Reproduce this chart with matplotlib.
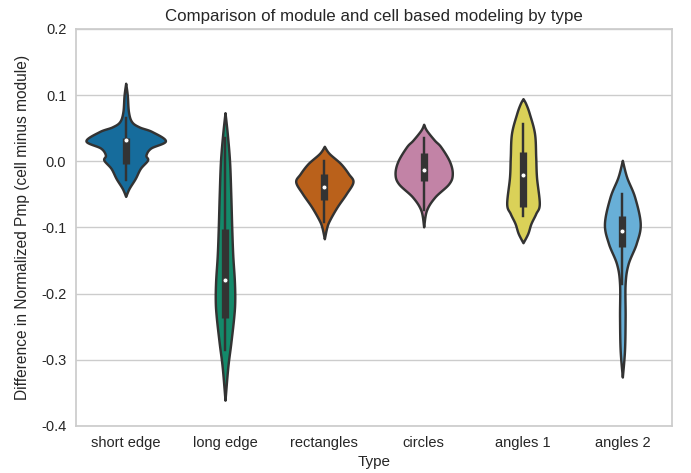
import colorsys
import numpy as np
import matplotlib
matplotlib.use("Agg")
from matplotlib import pyplot as plt
import matplotlib.colors as mcolors

plt.rcParams['font.family'] = ['Liberation Sans', 'DejaVu Sans']

types = ['short edge', 'long edge', 'rectangles', 'circles', 'angles 1', 'angles 2']
colors = ['#0072B2', '#009E73', '#D55E00', '#CC79A7', '#F0E442', '#56B4E9']

# kde outline of each type: support values and relative density
support_short = [0.118, 0.100, 0.075, 0.060, 0.052, 0.045, 0.031, 0.020, 0.0095, 0.002, -0.0106, -0.026, -0.041, -0.053]
density_short = [0.0, 0.04, 0.07, 0.15, 0.34, 0.66, 1.0, 0.63, 0.51, 0.55, 0.37, 0.24, 0.085, 0.0]

support_long = [0.0735, 0.040, -0.001, -0.050, -0.102, -0.142, -0.180, -0.210, -0.235, -0.275, -0.311, -0.361]
density_long = [0.0, 0.06, 0.115, 0.145, 0.17, 0.195, 0.235, 0.245, 0.22, 0.145, 0.07, 0.0]

support_rect = [0.0227, 0.012, -0.0035, -0.019, -0.031, -0.049, -0.069, -0.089, -0.100, -0.117]
density_rect = [0.0, 0.12, 0.41, 0.61, 0.72, 0.55, 0.32, 0.13, 0.06, 0.0]

support_circ = [0.056, 0.047, 0.032, 0.022, 0.000, -0.019, -0.034, -0.054, -0.074, -0.099]
density_circ = [0.0, 0.07, 0.27, 0.43, 0.65, 0.72, 0.63, 0.28, 0.07, 0.0]

support_ang1 = [0.0947, 0.087, 0.072, 0.042, 0.0065, -0.024, -0.064, -0.079, -0.094, -0.109, -0.123]
density_ang1 = [0.0, 0.07, 0.16, 0.29, 0.32, 0.34, 0.41, 0.32, 0.2, 0.12, 0.0]

support_ang2 = [0.0015, -0.024, -0.054, -0.094, -0.124, -0.155, -0.185, -0.235, -0.285, -0.326]
density_ang2 = [0.0, 0.11, 0.31, 0.45, 0.35, 0.145, 0.07, 0.07, 0.055, 0.0]

supports = [support_short, support_long, support_rect, support_circ, support_ang1, support_ang2]
densities = [density_short, density_long, density_rect, density_circ, density_ang1, density_ang2]

# inner box stats per type
q1 = [-0.0045, -0.237, -0.059, -0.029, -0.069, -0.129]
median = [0.032, -0.180, -0.039, -0.0136, -0.021, -0.106]
q3 = [0.036, -0.102, -0.019, 0.012, 0.014, -0.082]
whisker_lo = [-0.028, -0.285, -0.092, -0.074, -0.082, -0.185]
whisker_hi = [0.065, 0.035, 0.0005, 0.035, 0.057, -0.049]

yticks = [0.2, 0.1, 0.0, -0.1, -0.2, -0.3, -0.4]
yticklabels = ['0.2', '0.1', '0.0', '-0.1', '-0.2', '-0.3', '-0.4']


def desaturate(c, prop):
    h, l, s = colorsys.rgb_to_hls(*mcolors.to_rgb(c))
    return colorsys.hls_to_rgb(h, l, s * prop)


def smooth_outline(ys, ws, n=20):
    # catmull-rom through the outline points
    pts = np.column_stack([ys, ws])
    pts = np.vstack([pts[0], pts, pts[-1]])
    out = []
    for i in range(1, len(pts) - 2):
        p0, p1, p2, p3 = pts[i - 1], pts[i], pts[i + 1], pts[i + 2]
        t = np.linspace(0, 1, n, endpoint=False)[:, None]
        seg = 0.5 * ((2 * p1) + (-p0 + p2) * t + (2 * p0 - 5 * p1 + 4 * p2 - p3) * t ** 2
                     + (-p0 + 3 * p1 - 3 * p2 + p3) * t ** 3)
        out.append(seg)
    out.append(pts[-2][None, :])
    out = np.vstack(out)
    return out[:, 0], np.clip(out[:, 1], 0, None)


fig = plt.figure(figsize=(6.91, 4.73), dpi=100)
ax = fig.add_axes([0.110, 0.0994, 0.8625, 0.8393])

gray = '#333333'
lw = 1.75
half = 0.4

for i in range(len(types)):
    ys, ws = smooth_outline(supports[i], densities[i])
    ax.fill_betweenx(ys, i - ws * half, i + ws * half,
                     facecolor=desaturate(colors[i], 0.75), edgecolor=gray, lw=lw, zorder=2)
    ax.plot([i, i], [whisker_lo[i], whisker_hi[i]], color=gray, lw=lw, zorder=3)
    ax.plot([i, i], [q1[i], q3[i]], color=gray, lw=lw * 3, solid_capstyle='butt', zorder=3)
    ax.scatter(i, median[i], s=(lw * 2) ** 2, color='white', edgecolor=gray, lw=0.5, zorder=4)

ax.set_xlim(-0.5, len(types) - 0.5)
ax.set_ylim(-0.4, 0.2)
ax.set_xticks(range(len(types)))
ax.set_xticklabels(types)
ax.set_yticks(yticks)
ax.set_yticklabels(yticklabels)

ax.grid(axis='y', color='#cccccc', lw=1.0, zorder=0)
ax.set_axisbelow(True)
for s in ax.spines.values():
    s.set_color('#cccccc')
    s.set_linewidth(1.25)
ax.tick_params(length=0, labelsize=10.5, colors='#262626', pad=7)

ax.set_xlabel('Type', fontsize=11, color='#262626', labelpad=4)
ax.set_ylabel('Difference in Normalized Pmp (cell minus module)', fontsize=11.2, color='#262626', labelpad=8)
ax.set_title('Comparison of module and cell based modeling by type', fontsize=12.2, color='#262626', pad=6)

fig.savefig('out.png', dpi=100, facecolor='white')
